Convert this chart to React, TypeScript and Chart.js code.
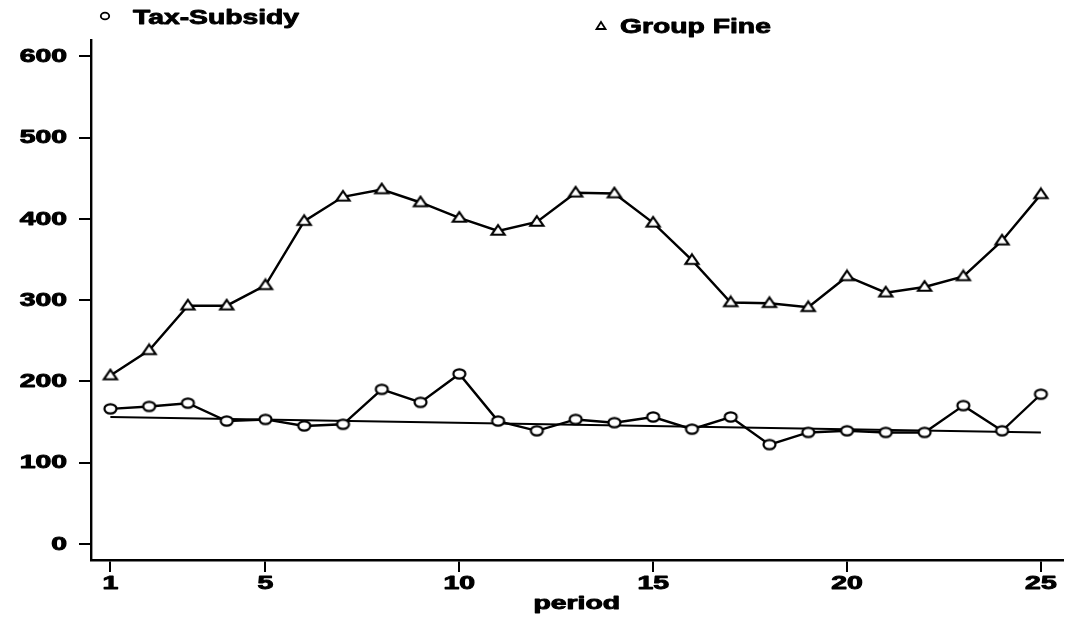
import React, { useEffect, useRef } from "react";
import { Chart, registerables } from "chart.js";

Chart.register(...registerables);

// Period numbers on the horizontal axis
const periods = [1, 2, 3, 4, 5, 6, 7, 8, 9, 10, 11, 12, 13, 14, 15, 16, 17, 18, 19, 20, 21, 22, 23, 24, 25];

// Tax-Subsidy treatment (circles)
const taxSubsidy = [166, 169, 173, 151, 153, 145, 147, 190, 174, 209, 151, 139, 153, 149, 156, 141, 156, 122, 137, 139, 137, 137, 170, 139, 184];

// Group Fine treatment (triangles)
const groupFine = [207, 238, 293, 293, 318, 397, 427, 436, 420, 401, 385, 396, 432, 431, 395, 349, 297, 296, 291, 329, 309, 316, 329, 373, 430];

// Fitted linear trend of the Tax-Subsidy series, at the first and last period
const trendPeriods = [1, 25];
const trendValues = [156, 137];

// Axis ticks
const xTicks = [1, 5, 10, 15, 20, 25];
const yTicks = [0, 100, 200, 300, 400, 500, 600];

const FONT = '"Liberation Sans", Arial, Helvetica, sans-serif';

// Bold text, widened horizontally and thickened with a thin outline
function stretchedText(
  ctx: CanvasRenderingContext2D,
  text: string,
  x: number,
  y: number,
  size: number,
  sx: number,
  align: CanvasTextAlign,
  baseline: CanvasTextBaseline
) {
  ctx.save();
  ctx.font = `bold ${size}px ${FONT}`;
  ctx.textAlign = align;
  ctx.textBaseline = baseline;
  ctx.fillStyle = "#000";
  ctx.strokeStyle = "#000";
  ctx.lineWidth = 0.9;
  ctx.lineJoin = "round";
  ctx.translate(x, y);
  ctx.scale(sx, 1);
  ctx.fillText(text, 0, 0);
  ctx.strokeText(text, 0, 0);
  ctx.restore();
}

function makeEllipseMarker(rx: number, ry: number, lw: number) {
  const c = document.createElement("canvas");
  const w = Math.ceil(rx * 2 + lw * 2 + 2);
  const h = Math.ceil(ry * 2 + lw * 2 + 2);
  c.width = w;
  c.height = h;
  const g = c.getContext("2d")!;
  g.beginPath();
  g.ellipse(w / 2, h / 2, rx, ry, 0, 0, Math.PI * 2);
  g.fillStyle = "#fff";
  g.fill();
  g.lineWidth = lw;
  g.strokeStyle = "#000";
  g.stroke();
  return c;
}

function makeTriangleMarker(bw: number, th: number, lw: number) {
  const c = document.createElement("canvas");
  const w = Math.ceil(bw + lw * 2 + 2);
  const h = Math.ceil(th + lw * 2 + 2);
  c.width = w;
  c.height = h;
  const g = c.getContext("2d")!;
  const cx = w / 2;
  const top = (h - th) / 2 - 1;
  g.beginPath();
  g.moveTo(cx, top);
  g.lineTo(cx + bw / 2, top + th);
  g.lineTo(cx - bw / 2, top + th);
  g.closePath();
  g.fillStyle = "#fff";
  g.fill();
  g.lineWidth = lw;
  g.lineJoin = "miter";
  g.strokeStyle = "#000";
  g.stroke();
  return c;
}

// Draws the stretched tick labels, axis title and the two legend keys
const labelsPlugin = {
  id: "stretchedLabels",
  afterDraw(chart: any) {
    const ctx: CanvasRenderingContext2D = chart.ctx;
    const xs = chart.scales.x;
    const ys = chart.scales.y;
    const area = chart.chartArea;

    yTicks.forEach((v) => {
      stretchedText(ctx, String(v), area.left - 24, ys.getPixelForValue(v) + 1, 17.5, 1.62, "right", "middle");
    });
    xTicks.forEach((v) => {
      stretchedText(ctx, String(v), xs.getPixelForValue(v), area.bottom + 24, 17.5, 1.62, "center", "middle");
    });
    stretchedText(ctx, "period", (area.left + area.right) / 2, 609, 17.5, 1.62, "center", "alphabetic");

    // Legend: circle key
    ctx.save();
    ctx.lineWidth = 1.8;
    ctx.strokeStyle = "#000";
    ctx.beginPath();
    ctx.ellipse(105, 16, 4.2, 3.4, 0, 0, Math.PI * 2);
    ctx.stroke();
    ctx.restore();
    stretchedText(ctx, "Tax-Subsidy", 133, 24, 20.5, 1.38, "left", "alphabetic");

    // Legend: triangle key
    ctx.save();
    ctx.lineWidth = 1.8;
    ctx.strokeStyle = "#000";
    ctx.beginPath();
    ctx.moveTo(601, 22);
    ctx.lineTo(605.5, 29);
    ctx.lineTo(596.5, 29);
    ctx.closePath();
    ctx.stroke();
    ctx.restore();
    stretchedText(ctx, "Group Fine", 620, 33, 20.5, 1.38, "left", "alphabetic");
  },
};

export default function App() {
  const canvasRef = useRef<HTMLCanvasElement | null>(null);

  useEffect(() => {
    const canvas = canvasRef.current;
    if (!canvas) return;

    const circle = makeEllipseMarker(6, 4.6, 2.2);
    const triangle = makeTriangleMarker(13, 9.5, 2.2);

    const chart = new Chart(canvas, {
      type: "line",
      data: {
        datasets: [
          {
            label: "Group Fine",
            data: periods.map((p, i) => ({ x: p, y: groupFine[i] })),
            borderColor: "#000",
            borderWidth: 2.4,
            pointStyle: triangle as any,
            pointRadius: 6,
            tension: 0,
          },
          {
            label: "Tax-Subsidy",
            data: periods.map((p, i) => ({ x: p, y: taxSubsidy[i] })),
            borderColor: "#000",
            borderWidth: 2.4,
            pointStyle: circle as any,
            pointRadius: 6,
            tension: 0,
          },
          {
            label: "Trend",
            data: trendPeriods.map((p, i) => ({ x: p, y: trendValues[i] })),
            borderColor: "#000",
            borderWidth: 2,
            pointRadius: 0,
            tension: 0,
          },
        ],
      },
      options: {
        animation: false,
        responsive: true,
        maintainAspectRatio: false,
        layout: { padding: { left: 79, right: 0, top: 40, bottom: 47 } },
        plugins: {
          legend: { display: false },
          tooltip: { enabled: false },
        },
        scales: {
          x: {
            type: "linear",
            min: 0.5,
            max: 25.56,
            afterBuildTicks: (s: any) => {
              s.ticks = xTicks.map((v) => ({ value: v }));
            },
            ticks: { display: false },
            grid: { drawOnChartArea: false, drawTicks: true, tickLength: 12, color: "#000", lineWidth: 2 },
            border: { display: true, color: "#000", width: 2.4 },
          },
          y: {
            type: "linear",
            min: -20,
            max: 620,
            afterBuildTicks: (s: any) => {
              s.ticks = yTicks.map((v) => ({ value: v }));
            },
            ticks: { display: false },
            grid: { drawOnChartArea: false, drawTicks: true, tickLength: 12, color: "#000", lineWidth: 2 },
            border: { display: true, color: "#000", width: 2.4 },
          },
        },
      },
      plugins: [labelsPlugin],
    });

    return () => chart.destroy();
  }, []);

  return (
    <div style={{ position: "absolute", left: 0, top: 0, width: 1071, height: 619, background: "#fff" }}>
      <canvas ref={canvasRef} />
    </div>
  );
}
